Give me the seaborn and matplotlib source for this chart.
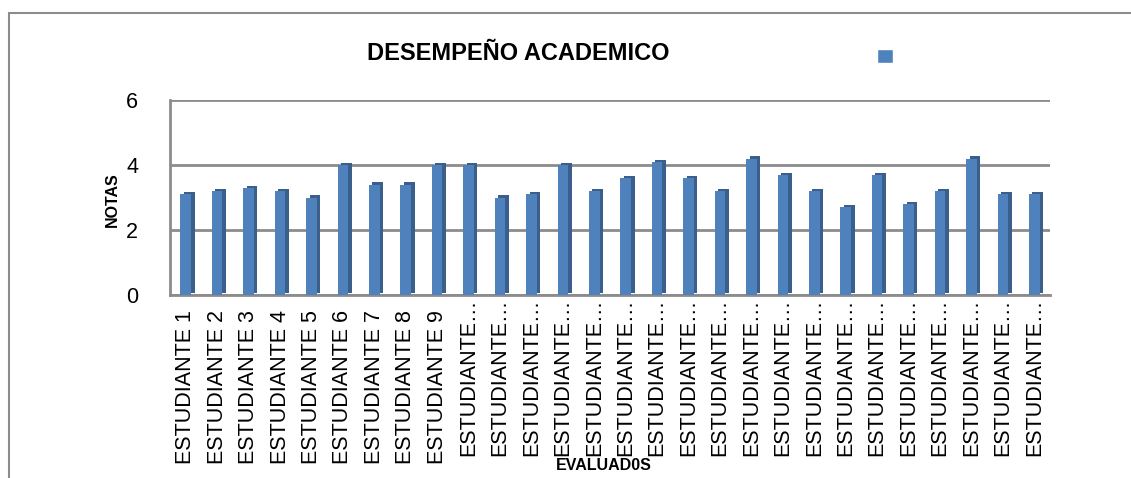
import matplotlib
matplotlib.use("Agg")
import matplotlib.pyplot as plt
import matplotlib.patheffects as pe
from matplotlib.patches import Patch
from matplotlib.transforms import ScaledTranslation
import seaborn as sns
import numpy as np
import pandas as pd

estudiantes = ["ESTUDIANTE %d" % i for i in range(1, 29)]
etiquetas = ["ESTUDIANTE %d" % i for i in range(1, 10)] + ["ESTUDIANTE\u2026"] * 19
notas = [3.1, 3.2, 3.3, 3.2, 3.0, 4.0, 3.4, 3.4, 4.0, 4.0,
         3.0, 3.1, 4.0, 3.2, 3.6, 4.1, 3.6, 3.2, 4.2, 3.7,
         3.2, 2.7, 3.7, 2.8, 3.2, 4.2, 3.1, 3.1]
yticks = [0, 2, 4, 6]

df = pd.DataFrame({"estudiante": estudiantes, "nota": notas})

sns.set_style("white")
plt.rcParams['font.family'] = ['Liberation Sans', 'DejaVu Sans']
plt.rcParams['text.color'] = 'black'
plt.rcParams['xtick.color'] = 'black'
plt.rcParams['ytick.color'] = 'black'

azul = "#4F81BD"
gris = "#8C8C8C"

fig = plt.figure(figsize=(11.31, 4.78), dpi=100)
ax = fig.add_axes([170/1131, 1-295/478, 880/1131, 195/478])

sns.barplot(data=df, x="estudiante", y="nota", color=azul, width=0.34,
            saturation=1, linewidth=0, ax=ax, zorder=3)
for p in ax.patches:
    p.set_path_effects([pe.SimplePatchShadow(offset=(2.5, 1.5), shadow_rgbFace="#3A5F8C", alpha=1),
                        pe.Normal()])

ax.set_ylim(0, 6)
ax.set_xlim(-0.5, len(notas) - 0.5)
ax.set_yticks(yticks)
ax.set_yticklabels([str(v) for v in yticks], fontsize=15.5)
ax.set_xticks(range(len(etiquetas)))
ax.set_xticklabels(etiquetas, rotation=90, fontsize=15.5, va="top")
ax.set_xticks(np.arange(-0.5, len(notas)), minor=True)
ax.tick_params(axis="x", which="major", length=0, pad=11)
ax.tick_params(axis="x", which="minor", length=6, color=gris, width=1.5, direction="out")
ax.tick_params(axis="y", length=9, color=gris, width=1.5, direction="out", pad=14)
ax.grid(axis="y", color=gris, linewidth=2, zorder=0)
for s in ["top", "right"]:
    ax.spines[s].set_visible(False)
for s in ["left", "bottom"]:
    ax.spines[s].set_color(gris)
    ax.spines[s].set_linewidth(2)

# etiquetas recortadas suben un poco (los puntos quedan junto al eje)
for lbl in ax.get_xticklabels()[9:]:
    lbl.set_transform(lbl.get_transform() + ScaledTranslation(0, 0.12, fig.dpi_scale_trans))

ax.set_xlabel("")
ax.set_ylabel("")
fig.text(604/1131, 1-466/478, "EVALUAD0S", fontsize=11.5, fontweight="bold",
         ha="center", va="center")
fig.text(112/1131, 1-200/478, "NOTAS", fontsize=11.5, fontweight="bold",
         rotation=90, ha="center", va="center")
fig.text(518/1131, 1-53/478, "DESEMPEÑO ACADEMICO", fontsize=17, fontweight="bold",
         ha="center", va="center")

fig.legend(handles=[Patch(facecolor=azul)], labels=[""], loc="center",
           bbox_to_anchor=(885/1131, 1-57/478), frameon=False,
           handlelength=1.0, handleheight=1.0, fontsize=11, handletextpad=0)

# borde del area del grafico
fig.add_artist(plt.Line2D([9/1131, 9/1131], [0, 1-13/478], color=gris, linewidth=1.5))
fig.add_artist(plt.Line2D([9/1131, 1], [1-13/478, 1-13/478], color=gris, linewidth=1.5))

fig.savefig("out.png", dpi=100)
